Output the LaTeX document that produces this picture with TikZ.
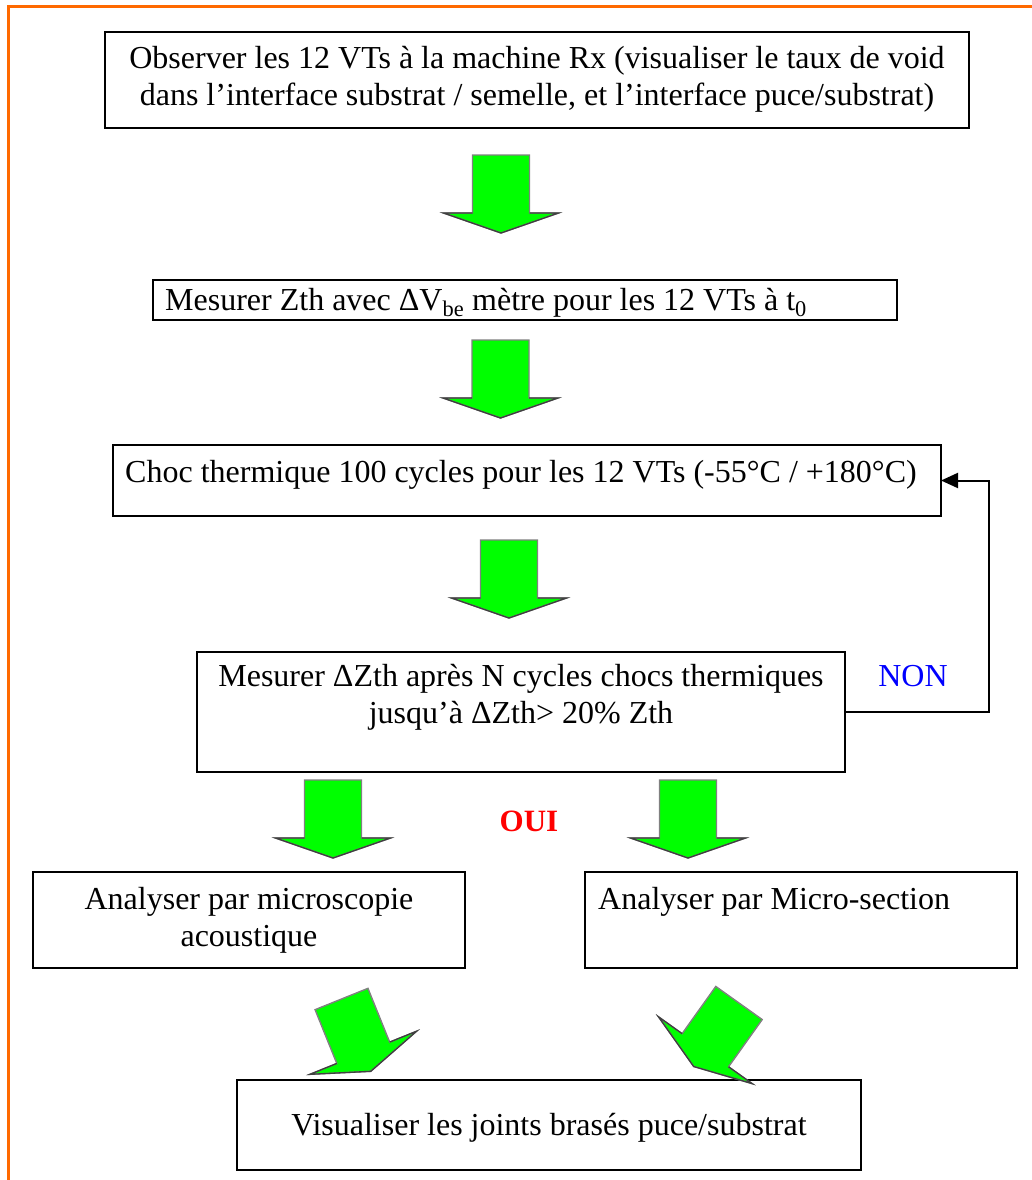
\documentclass[tikz,border=0pt]{standalone}
\usepackage{fontspec}
\setmainfont{Liberation Serif}
\usetikzlibrary{arrows.meta}
\definecolor{frameorange}{RGB}{255,105,0}
\definecolor{arrowgreen}{RGB}{0,255,0}
\definecolor{nonblue}{RGB}{0,0,255}
\definecolor{ouired}{RGB}{255,0,0}
\newcommand{\greenarrow}[3]{%
  \begin{scope}[shift={(#1,#2)}, rotate=#3]
    \draw[garrow] (-28.5,0) -- (28.5,0) -- (28.5,58) -- (57.5,58) -- (0,78) -- (-57.5,58) -- (-28.5,58) -- cycle;
    \draw[garrowdark] (28.5,58) -- (57.5,58) -- (0,78) -- (-57.5,58) -- (-28.5,58);
  \end{scope}}
\begin{document}
\begin{tikzpicture}[x=1pt,y=-1pt,
  box/.style={draw=black, line width=2pt, rectangle, inner sep=0pt, outer sep=0pt},
  txt/.style={inner sep=0pt, anchor=base, font=\fontsize{32}{37}\selectfont},
  ltxt/.style={txt, anchor=base west},
  garrow/.style={fill=arrowgreen, draw=gray, line width=1.4pt, line join=miter},
  garrowdark/.style={draw=black!75, line width=1.3pt, line join=miter},
  link/.style={line width=2pt, -{Triangle[length=17pt,width=15pt]}}
]
\useasboundingbox (0,0) rectangle (1031,1180);
\draw[frameorange, line width=3pt] (8,1190) -- (8,7) -- (1040,7);

% boxes
\node[box, minimum width=864pt, minimum height=96pt] (b1) at (537,80) {};
\node[box, minimum width=744pt, minimum height=40pt] (b2) at (525,300) {};
\node[box, minimum width=828pt, minimum height=71pt] (b3) at (527,480.5) {};
\node[box, minimum width=648pt, minimum height=120pt] (b4) at (521,712) {};
\node[box, minimum width=432pt, minimum height=96pt] (b5) at (249,920) {};
\node[box, minimum width=432pt, minimum height=96pt] (b6) at (801,920) {};
\node[box, minimum width=624pt, minimum height=90pt] (b7) at (549,1125) {};

% texts
\node[txt] (t1a) at (537,69) {Observer les 12 VTs à la machine Rx (visualiser le taux de void};
\node[txt] (t1b) at (537,106) {dans l’interface substrat / semelle, et l’interface puce/substrat)};
\node[ltxt] (t2) at (165,310) {Mesurer Zth avec ΔV\textsubscript{be} mètre pour les 12 VTs à t\textsubscript{0}};
\node[ltxt] (t3) at (125,482) {Choc thermique 100 cycles pour les 12 VTs (-55°C / +180°C)};
\node[txt] (t4a) at (521,686) {Mesurer ΔZth après N cycles chocs thermiques};
\node[txt] (t4b) at (521,723) {jusqu’à ΔZth> 20\% Zth};
\node[txt, text=nonblue] (non) at (913,686) {NON};
\node[txt, text=ouired, font=\fontsize{31}{37}\selectfont\bfseries] (oui) at (529,831) {OUI};
\node[txt] (t5a) at (249,909) {Analyser par microscopie};
\node[txt] (t5b) at (249,946) {acoustique};
\node[ltxt] (t6) at (598,909) {Analyser par Micro-section};
\node[txt] (t7) at (549,1135) {Visualiser les joints brasés puce/substrat};

% green block arrows
\greenarrow{501}{155}{0}
\greenarrow{500.5}{340}{0}
\greenarrow{509}{540}{0}
\greenarrow{333}{780}{0}
\greenarrow{688}{780}{0}
\greenarrow{341.5}{999}{22}
\greenarrow{739}{1003}{-35.5}

% feedback loop
\coordinate (fb) at (989,712);
\draw[link] (b4.east) -- (fb) |- (b3.east);
\end{tikzpicture}
\end{document}
